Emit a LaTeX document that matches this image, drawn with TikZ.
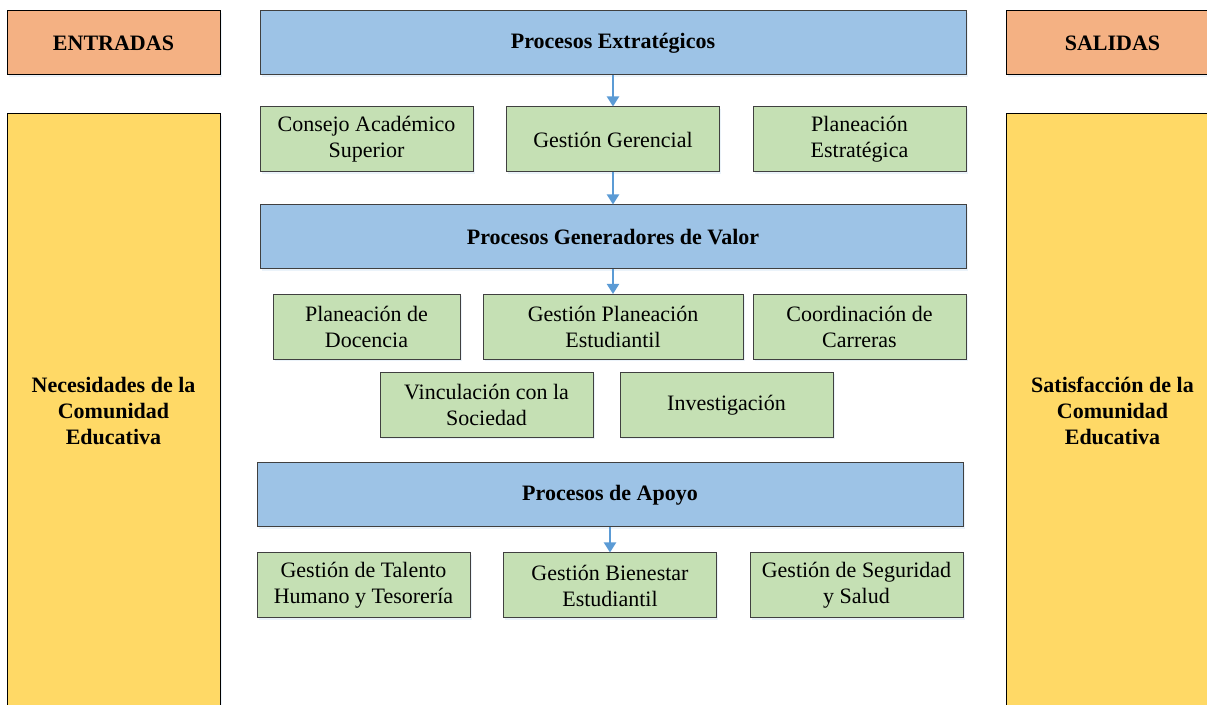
\documentclass[tikz,border=0pt]{standalone}
\usepackage{fontspec}
\setmainfont{Liberation Serif}
\usetikzlibrary{arrows.meta,positioning,shadows}

\definecolor{naranja}{HTML}{F4B183}
\definecolor{amarillo}{HTML}{FFD966}
\definecolor{azul}{HTML}{9DC3E6}
\definecolor{verde}{HTML}{C5E0B4}
\definecolor{flecha}{HTML}{5B9BD5}
\definecolor{borde}{HTML}{404040}

\tikzset{
  caja/.style={draw=borde, line width=0.5pt, align=center, inner sep=0pt,
    font=\fontsize{11}{13}\selectfont,
    drop shadow={opacity=0.12, shadow xshift=0.8pt, shadow yshift=-0.8pt, fill=flecha}},
  extremo/.style={caja, fill=naranja, draw=black, font=\fontsize{11}{13}\selectfont\bfseries,
    minimum width=106.5pt, minimum height=32pt},
  comunidad/.style={caja, fill=amarillo, draw=black, font=\fontsize{11}{13}\selectfont\bfseries,
    minimum width=106.5pt, minimum height=297pt},
  proceso/.style={caja, fill=azul, font=\fontsize{11}{13}\selectfont\bfseries,
    minimum width=353pt, minimum height=32pt},
  subproceso/.style={caja, fill=verde, minimum width=106.5pt, minimum height=32.5pt},
  enlace/.style={draw=flecha, line width=1pt, -{Triangle[length=5pt,width=6pt]}}
}

\begin{document}
\begin{tikzpicture}[x=0.5pt, y=-0.5pt]
  \useasboundingbox (0,0) rectangle (1207,705);
  \clip (0,0) rectangle (1207,705);

  % entradas y salidas
  \node [extremo] (entradas) at (113.5,43) {ENTRADAS};
  \node [extremo] (salidas) at (1112.5,43) {SALIDAS};
  \node [comunidad] (necesidades) at (113.5,411) {Necesidades de la\\Comunidad\\Educativa};
  \node [comunidad] (satisfaccion) at (1112.5,411) {Satisfacción de la\\Comunidad\\Educativa};

  % procesos estrategicos
  \node [proceso] (estrategicos) at (613,43) {Procesos Extratégicos};
  \node [subproceso] (consejo) at (366.5,139.5) {Consejo Académico\\Superior};
  \node [subproceso] (gerencial) at (613,139.5) {Gestión Gerencial};
  \node [subproceso] (planeacion) at (859.5,139.5) {Planeación\\Estratégica};

  % procesos generadores de valor
  \node [proceso] (generadores) at (613,237) {Procesos Generadores de Valor};
  \node [subproceso, minimum width=93.5pt] (docencia) at (366.5,327) {Planeación de\\Docencia};
  \node [subproceso, minimum width=130pt] (estudiantil) at (613,327) {Gestión Planeación\\Estudiantil};
  \node [subproceso] (carreras) at (859.5,327) {Coordinación de\\Carreras};
  \node [subproceso] (vinculacion) at (486.5,405) {Vinculación con la\\Sociedad};
  \node [subproceso] (investigacion) at (726.5,405) {Investigación};

  % procesos de apoyo
  \node [proceso] (apoyo) at (610,495) {Procesos de Apoyo};
  \node [subproceso] (talento) at (363.5,585.5) {Gestión de Talento\\Humano y Tesorería};
  \node [subproceso] (bienestar) at (610,585.5) {Gestión Bienestar\\Estudiantil};
  \node [subproceso] (seguridad) at (856.5,585.5) {Gestión de Seguridad\\y Salud};

  \path [enlace] (estrategicos) -- (gerencial);
  \path [enlace] (gerencial) -- (generadores);
  \path [enlace] (generadores) -- (estudiantil);
  \path [enlace] (apoyo) -- (bienestar);
\end{tikzpicture}
\end{document}
